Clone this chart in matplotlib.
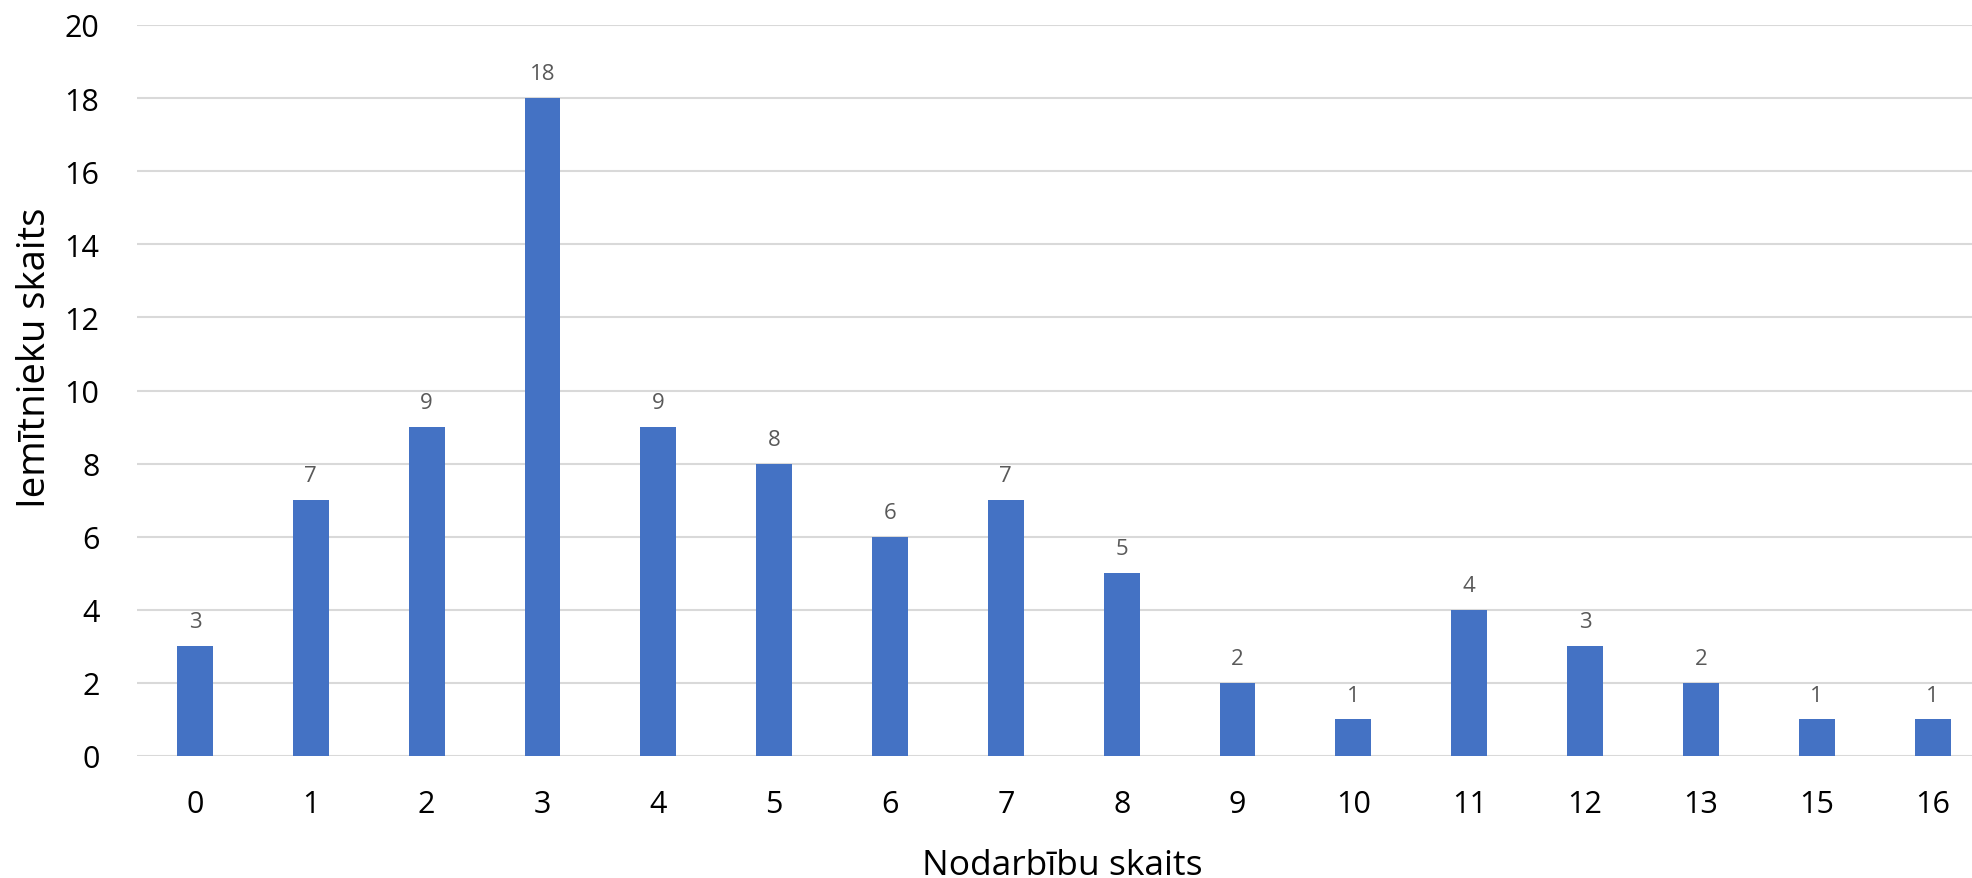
import matplotlib
matplotlib.use("Agg")
import matplotlib.pyplot as plt
import numpy as np

# data
categories = ["0", "1", "2", "3", "4", "5", "6", "7", "8", "9", "10", "11", "12", "13", "15", "16"]
counts = [3, 7, 9, 18, 9, 8, 6, 7, 5, 2, 1, 4, 3, 2, 1, 1]

plt.rcParams['font.family'] = ['Open Sans', 'DejaVu Sans']

W, H = 1972, 879
fig = plt.figure(figsize=(W / 100, H / 100), dpi=100)
left, right, top, bottom = 137, 1972, 26, 757
ax = fig.add_axes([left / W, (H - bottom) / H, (right - left) / W, (bottom - top) / H])

x = np.arange(len(categories))
bars = ax.bar(x, counts, width=0.31, color="#4472C4", zorder=3)

for xi, v in zip(x, counts):
    ax.annotate(str(v), (xi, v), xytext=(0, 10), textcoords="offset points",
                ha="center", va="bottom", fontsize=16, color="#595959")

ax.set_ylim(0, 20)
ax.set_yticks(range(0, 21, 2))
# the source image is cut off on the right, so the last slot is not complete
ax.set_xlim(-0.5, 15.34)
ax.set_xticks(x)
ax.set_xticklabels(categories)

ax.grid(axis="y", color="#d9d9d9", lw=1.5, zorder=0)
for s in ax.spines.values():
    s.set_visible(False)
ax.tick_params(axis="both", length=0, labelsize=22, colors="black")
ax.tick_params(axis="y", pad=27)
ax.tick_params(axis="x", pad=24)

fig.text(1062 / W, 1 - 875 / H, "Nodarbību skaits", ha="center", va="baseline", fontsize=25.5)
fig.text(35 / W, 1 - 358 / H, "Iemītnieku skaits", ha="center", va="center",
         rotation=90, fontsize=27.5)

fig.savefig("out.png", dpi=100)
